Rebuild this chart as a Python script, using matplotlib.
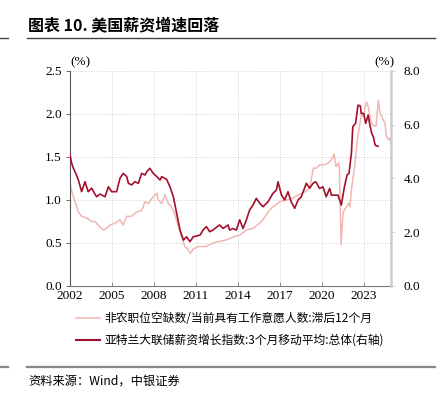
import numpy as np
import matplotlib
matplotlib.use("Agg")
import matplotlib.pyplot as plt
from matplotlib.lines import Line2D

plt.rcParams['font.family'] = ['Noto Sans CJK SC', 'DejaVu Sans']

# job openings / people wanting a job, lagged 12 months (left axis)
light_t = [2002.0, 2002.12, 2002.36, 2002.6, 2002.83, 2003.2, 2003.55, 2003.79, 2004.0, 2004.38,
           2004.6, 2004.86, 2005.2, 2005.57, 2005.8, 2006.05, 2006.4, 2006.76, 2007.12, 2007.36,
           2007.6, 2007.95, 2008.2, 2008.3, 2008.55, 2008.79, 2009.02, 2009.26, 2009.5, 2009.74,
           2009.98, 2010.2, 2010.45, 2010.6, 2010.8, 2011.17, 2011.5, 2011.74, 2012.2, 2012.7,
           2013.17, 2013.64, 2014.12, 2014.6, 2015.07, 2015.55, 2015.79, 2016.14, 2016.5, 2016.98,
           2017.45, 2017.93, 2018.29, 2018.64, 2019.0, 2019.14, 2019.38, 2019.6, 2019.86, 2020.2,
           2020.45, 2020.7, 2020.86, 2021.0, 2021.17, 2021.24, 2021.36, 2021.5, 2021.67, 2021.9,
           2022.0, 2022.1, 2022.36, 2022.52, 2022.71, 2022.83, 2022.95, 2023.07, 2023.19, 2023.31,
           2023.43, 2023.55, 2023.71, 2023.86, 2024.02, 2024.14, 2024.26, 2024.5, 2024.6, 2024.74,
           2024.86, 2024.93]
light_v = [1.19, 1.10, 0.98, 0.86, 0.81, 0.79, 0.75, 0.75, 0.71, 0.65,
           0.67, 0.71, 0.73, 0.77, 0.71, 0.81, 0.81, 0.86, 0.88, 0.98,
           0.96, 1.04, 1.08, 1.00, 0.96, 1.06, 0.96, 0.92, 0.83, 0.69,
           0.57, 0.46, 0.42, 0.38, 0.43, 0.46, 0.46, 0.46, 0.50, 0.52,
           0.535, 0.57, 0.59, 0.65, 0.67, 0.73, 0.77, 0.86, 0.92, 0.98,
           1.00, 1.02, 1.06, 1.08, 1.12, 1.15, 1.37, 1.37, 1.41, 1.41,
           1.43, 1.47, 1.535, 1.39, 1.43, 1.37, 0.48, 0.85, 0.90, 0.96,
           0.92, 1.12, 1.43, 1.70, 1.89, 2.01, 1.97, 2.07, 2.14, 2.08,
           1.97, 1.89, 1.86, 1.86, 2.16, 2.01, 1.97, 1.89, 1.74, 1.70,
           1.72, 1.64]

# Atlanta Fed wage growth tracker, 3m avg (right axis)
dark_t = [2002.0, 2002.1, 2002.24, 2002.4, 2002.6, 2002.83, 2003.07, 2003.3, 2003.55, 2003.75,
          2003.9, 2004.14, 2004.5, 2004.74, 2004.98, 2005.33, 2005.57, 2005.8, 2006.05, 2006.17,
          2006.4, 2006.64, 2006.88, 2007.12, 2007.36, 2007.48, 2007.7, 2007.95, 2008.2, 2008.43,
          2008.55, 2008.9, 2009.14, 2009.38, 2009.62, 2009.86, 2010.1, 2010.33, 2010.57, 2010.8,
          2011.05, 2011.3, 2011.5, 2011.74, 2011.98, 2012.2, 2012.45, 2012.7, 2012.93, 2013.29,
          2013.4, 2013.64, 2013.88, 2014.12, 2014.36, 2014.6, 2014.83, 2015.07, 2015.31, 2015.55,
          2015.79, 2016.14, 2016.5, 2016.74, 2016.86, 2017.1, 2017.33, 2017.57, 2017.8, 2018.05,
          2018.29, 2018.52, 2018.88, 2019.12, 2019.36, 2019.55, 2019.83, 2020.07, 2020.3, 2020.55,
          2020.67, 2020.9, 2021.14, 2021.38, 2021.6, 2021.79, 2021.93, 2022.1, 2022.2, 2022.4,
          2022.57, 2022.74, 2022.8, 2022.98, 2023.12, 2023.3, 2023.4, 2023.55, 2023.67, 2023.79,
          2023.9, 2024.0]
dark_v = [4.88, 4.60, 4.38, 4.20, 3.94, 3.51, 3.88, 3.51, 3.64, 3.45,
          3.32, 3.42, 3.32, 3.69, 3.51, 3.51, 4.01, 4.19, 4.07, 3.82,
          3.76, 3.88, 3.82, 4.19, 4.13, 4.25, 4.38, 4.19, 4.07, 3.94,
          4.07, 3.97, 3.69, 3.32, 2.70, 2.08, 1.71, 1.83, 1.65, 1.83,
          1.86, 1.90, 2.08, 2.21, 2.02, 2.08, 2.18, 2.27, 2.14, 2.27,
          2.08, 2.14, 2.08, 2.46, 2.14, 2.46, 2.83, 3.01, 3.26, 3.08,
          2.95, 3.13, 3.45, 3.57, 3.88, 3.39, 3.20, 3.51, 3.13, 2.89,
          3.20, 3.32, 3.82, 3.64, 3.82, 3.88, 3.63, 3.69, 3.32, 3.63,
          3.38, 3.38, 3.38, 3.01, 3.69, 4.13, 4.19, 4.94, 5.93, 6.05,
          6.73, 6.70, 6.42, 6.42, 6.05, 6.36, 6.05, 5.68, 5.55, 5.25,
          5.21, 5.20]

year_ticks = [2002, 2005, 2008, 2011, 2014, 2017, 2020, 2023]
left_ticks = [0.0, 0.5, 1.0, 1.5, 2.0, 2.5]
right_ticks = [0.0, 2.0, 4.0, 6.0, 8.0]

label_light = '非农职位空缺数/当前具有工作意愿人数:滞后12个月'
label_dark = '亚特兰大联储薪资增长指数:3个月移动平均:总体(右轴)'

c_light = '#f2b6b3'
c_dark = '#a3102c'
num_font = 'Liberation Serif'

fig = plt.figure(figsize=(4.39, 3.97), dpi=100)
ax = fig.add_axes([0.1595, 0.2796, 0.7312, 0.5416])
ax2 = ax.twinx()

ax.plot(light_t, light_v, color=c_light, lw=1.1)
ax2.plot(dark_t, dark_v, color=c_dark, lw=1.2)

ax.set_xlim(2002, 2024.93)
ax.set_ylim(0, 2.5)
ax2.set_ylim(0, 8)

ax.set_xticks(year_ticks)
ax.set_xticklabels([str(y) for y in year_ticks], fontfamily=num_font, fontsize=9.5)
ax.set_yticks(left_ticks)
ax.set_yticklabels(['%.1f' % v for v in left_ticks], fontfamily=num_font, fontsize=9.5)
ax2.set_yticks(right_ticks)
ax2.set_yticklabels(['%.1f' % v for v in right_ticks], fontfamily=num_font, fontsize=9.5)

ax.grid(True, ls=':', color='#d0d0d0', lw=0.7)
ax.set_axisbelow(True)

ax.spines['top'].set_visible(False)
ax2.spines['top'].set_visible(False)
ax.spines['right'].set_visible(False)
ax2.spines['left'].set_visible(False)
ax2.spines['bottom'].set_visible(False)
ax.spines['left'].set_color('#555555')
ax.spines['bottom'].set_color('#777777')
ax2.spines['right'].set_color('#cccccc')
ax2.spines['right'].set_linewidth(1.8)

ax.tick_params(axis='y', direction='out', length=3, width=0.6, color='#555555', pad=3)
ax.tick_params(axis='x', direction='in', length=3, width=0.6, color='#777777', pad=3)
ax2.tick_params(axis='y', direction='out', length=3, width=0.6, color='#cccccc', pad=6)

fig.text(70 / 439, 1 - 62 / 397, '(%)', fontfamily=num_font, fontsize=9.5, ha='left', va='center')
fig.text(384 / 439, 1 - 62 / 397, '(%)', fontfamily=num_font, fontsize=9.5, ha='center', va='center')

# title and rules
fig.text(28 / 439, 1 - 25 / 397, '图表 10. 美国薪资增速回落', fontsize=11.5, fontweight='bold', ha='left', va='center')
fig.add_artist(Line2D([27 / 439, 435 / 439], [1 - 38 / 397, 1 - 38 / 397], color='#444444', lw=1.0))
fig.add_artist(Line2D([0, 8 / 439], [1 - 38 / 397, 1 - 38 / 397], color='#444444', lw=1.0))
fig.add_artist(Line2D([27 / 439, 435 / 439], [1 - 367 / 397, 1 - 367 / 397], color='#888888', lw=1.6))
fig.add_artist(Line2D([0, 8 / 439], [1 - 367 / 397, 1 - 367 / 397], color='#888888', lw=1.6))
fig.text(28 / 439, 1 - 381 / 397, '资料来源：Wind，中银证券', fontsize=8.8, style='italic', ha='left', va='center')

handles = [Line2D([], [], color=c_light, lw=1.1), Line2D([], [], color=c_dark, lw=1.5)]
fig.legend(handles, [label_light, label_dark], loc='upper left', bbox_to_anchor=(76 / 439, 1 - 312 / 397),
           frameon=False, fontsize=8.5, handlelength=2.0, handletextpad=0.4, labelspacing=0.75,
           borderaxespad=0, borderpad=0)

fig.savefig('out.png', dpi=100)
